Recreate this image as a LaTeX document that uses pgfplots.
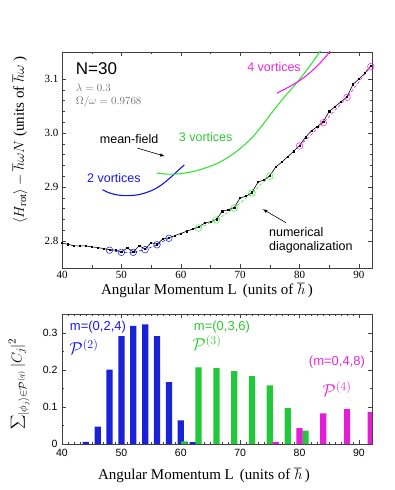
\documentclass[border=0pt]{standalone}
\usepackage{pgfplots}
\pgfplotsset{compat=1.18}
\usepackage{fontspec}
\setmainfont{Liberation Serif}
\newfontfamily\arial{Liberation Sans}

\definecolor{barBlue}{HTML}{1A22D8}
\definecolor{barGreen}{HTML}{22C83A}
\definecolor{barMag}{HTML}{E21FD4}
\definecolor{lnBlue}{HTML}{1414E0}
\definecolor{lnGreen}{HTML}{33E633}
\definecolor{lnMag}{HTML}{F01EE6}
\definecolor{txBlue}{HTML}{1818E6}
\definecolor{txGreen}{HTML}{2EC82E}
\definecolor{txMag}{HTML}{E628DC}

\begin{document}
\begin{tikzpicture}
\path[use as bounding box] (0,0) rectangle (395pt,490pt);

% ---- top panel: energy vs L
\begin{axis}[
  at={(62pt,222pt)}, anchor=south west,
  scale only axis, width=310pt, height=216pt,
  xmin=40, xmax=92.2, ymin=2.75, ymax=3.15,
  xtick={40,50,...,90}, minor x tick num=1,
  ytick={2.8,2.9,3.0,3.1}, yticklabels={2.8,2.9,3.0,3.1},
  minor y tick num=4,
  tick align=inside, tick style={black!75},
  major tick length=4pt, minor tick length=2.5pt,
  tick label style={font=\fontsize{11}{12}\selectfont},
  /pgf/number format/assume math mode=true,
  axis line style={black!75,line width=0.8pt},
]
% mean-field curves
\addplot[lnBlue,line width=1.1pt,smooth] coordinates {
 (46.8,2.895) (48,2.889) (49.5,2.885) (51,2.884) (53,2.886) (55,2.893)
 (56.5,2.902) (58,2.915) (59.5,2.930) (60.6,2.941)};
\addplot[lnGreen,line width=1.1pt,smooth] coordinates {
 (55.95,2.926) (57.5,2.924) (59.3,2.924) (61.3,2.927) (63.2,2.932)
 (66.0,2.943) (68.8,2.961) (71.7,2.988) (73.7,3.014) (75.5,3.040)
 (77.4,3.066) (79.6,3.094) (81.6,3.122) (83.4,3.150) (84.5,3.165)};
\addplot[lnMag,line width=1.1pt,smooth] coordinates {
 (76.2,3.074) (78,3.084) (80,3.097) (82,3.114) (84,3.136) (85,3.150) (85.5,3.160)};
% numerical diagonalization
\addplot[black,line width=0.6pt,mark=square*,mark size=0.6pt] coordinates {
 (40,2.796) (41,2.794) (42,2.791) (43,2.791) (44,2.791) (45,2.789)
 (46,2.788) (47,2.786) (48,2.784) (49,2.783) (50,2.780) (51,2.787)
 (52,2.780) (53,2.791) (54,2.785) (55,2.797) (56,2.794) (57,2.804)
 (58,2.806) (59,2.810) (60,2.814) (61,2.818) (62,2.822) (63,2.826)
 (64,2.833) (65,2.836) (66,2.840) (67,2.855) (68,2.858) (69,2.862)
 (70,2.880) (71,2.883) (72,2.890) (73,2.909) (74,2.913) (75,2.921)
 (76,2.937) (77,2.946) (78,2.956) (79,2.966) (80,2.977) (81,2.992)
 (82,3.004) (83,3.012) (84,3.021) (85,3.040) (86,3.049) (87,3.058)
 (88,3.067) (89,3.090) (90,3.100) (91,3.111) (92,3.124)};
% vortex states
\addplot[lnBlue,densely dashed,line width=0.6pt,mark=o,mark size=3.3pt,
  mark options={solid,line width=0.5pt}] coordinates {
 (48,2.783) (50,2.779) (52,2.779) (54,2.784) (56,2.793) (58,2.805)};
\addplot[lnGreen,densely dashed,line width=0.6pt,mark=o,mark size=3.3pt,
  mark options={solid,line width=0.5pt}] coordinates {
 (63,2.824) (66,2.839) (69,2.861) (72,2.889) (75,2.920)};
\addplot[lnMag,densely dashed,line width=0.6pt,mark=o,mark size=3.3pt,
  mark options={solid,line width=0.5pt}] coordinates {
 (80,2.976) (84,3.019) (88,3.066) (92,3.123)};

\node[anchor=west,font=\arial\fontsize{17}{18}\selectfont,inner sep=0pt]
  at (axis cs:42.3,3.120) {N=30};
\node[anchor=west,text=black!55,font=\fontsize{11}{12}\selectfont,inner sep=0pt]
  at (axis cs:42.3,3.083) {$\lambda=0.3$};
\node[anchor=west,text=black!55,font=\fontsize{11}{12}\selectfont,inner sep=0pt]
  at (axis cs:42.3,3.057) {$\Omega/\omega=0.9768$};
\node[font=\arial\fontsize{12.5}{14}\selectfont,inner sep=0pt]
  at (axis cs:51.3,2.989) {mean-field};
\node[font=\arial\fontsize{12.5}{14}\selectfont,text=txGreen,inner sep=0pt]
  at (axis cs:64.2,2.993) {3 vortices};
\node[font=\arial\fontsize{12.5}{14}\selectfont,text=txBlue,inner sep=0pt]
  at (axis cs:48.75,2.917) {2 vortices};
\node[font=\arial\fontsize{12.5}{14}\selectfont,text=txMag,inner sep=0pt]
  at (axis cs:75.7,3.122) {4 vortices};
\node[anchor=west,align=left,font=\arial\fontsize{12.5}{14}\selectfont,inner sep=0pt]
  at (axis cs:74.85,2.802) {numerical\\diagonalization};
\draw[-latex,line width=0.6pt] (axis cs:52.7,2.972) -- (axis cs:57.3,2.957);
\draw[-latex,line width=0.6pt] (axis cs:77.7,2.834) -- (axis cs:73.8,2.859);
\end{axis}

% ---- bottom panel: weights
\begin{axis}[
  at={(62pt,46pt)}, anchor=south west,
  scale only axis, width=310pt, height=130pt,
  xmin=40, xmax=92.2, ymin=0, ymax=0.351,
  xtick={40,50,...,90}, minor x tick num=9,
  ytick={0,0.1,0.2,0.3}, yticklabels={0,0.1,0.2,0.3},
  minor y tick num=1,
  tick align=inside, tick style={black!75},
  major tick length=4pt, minor tick length=2pt,
  tick label style={font=\arial\fontsize{10.5}{12}\selectfont},
  xticklabel style={yshift=-2pt},
  yticklabel style={xshift=-1pt},
  /pgf/number format/assume math mode=true,
  axis line style={black!75,line width=0.8pt},
]
\addplot[ybar,bar width=1.05,fill=barBlue,draw=none] coordinates {
 (44,0.006) (46,0.047) (48,0.201) (50,0.291) (52,0.319) (54,0.323)
 (56,0.291) (58,0.167) (60,0.064) (62,0.005)};
\addplot[ybar,bar width=1.05,fill=barGreen,draw=none] coordinates {
 (60.6,0.007) (63,0.207) (66,0.205) (69,0.197) (72,0.183) (75,0.158)
 (78,0.097) (81,0.036)};
\addplot[ybar,bar width=1.05,fill=barMag,draw=none] coordinates {
 (76,0.006) (80,0.043) (84,0.083) (88,0.094) (92,0.087)};

\node[font=\arial\fontsize{13}{14}\selectfont,text=txBlue,inner sep=0pt]
  at (axis cs:46.06,0.316) {m=(0,2,4)};
\node[font=\fontsize{17}{18}\selectfont,text=txBlue,inner sep=0pt]
  at (axis cs:43.7,0.262) {$\mathcal{P}^{(2)}$};
\node[font=\arial\fontsize{13}{14}\selectfont,text=txGreen,inner sep=0pt]
  at (axis cs:66.94,0.316) {m=(0,3,6)};
\node[font=\fontsize{17}{18}\selectfont,text=txGreen,inner sep=0pt]
  at (axis cs:64.41,0.273) {$\mathcal{P}^{(3)}$};
\node[font=\arial\fontsize{13}{14}\selectfont,text=txMag,inner sep=0pt]
  at (axis cs:86.3,0.222) {(m=0,4,8)};
\node[font=\fontsize{17}{18}\selectfont,text=txMag,inner sep=0pt]
  at (axis cs:86.3,0.149) {$\mathcal{P}^{(4)}$};
\end{axis}

% axis titles
\node[font=\fontsize{15}{16}\selectfont] at (207pt,200pt)
  {Angular Momentum L $\,$(units of $\hbar\,$)};
\node[font=\fontsize{15}{16}\selectfont] at (204pt,15pt)
  {Angular Momentum L $\,$(units of $\hbar\,$)};
\node[rotate=90,font=\fontsize{15}{16}\selectfont] at (20pt,350pt)
  {$\langle H_{\mathrm{rot}}\rangle - \hbar\omega N$ (units of $\hbar\omega$ )};
\node[rotate=90,font=\fontsize{15}{16}\selectfont,inner sep=1pt] at (19pt,106pt)
  {$\displaystyle\sum\nolimits_{|\phi_j\rangle\in\mathcal{P}^{(q)}} |C_j|^2$};
\end{tikzpicture}
\end{document}
